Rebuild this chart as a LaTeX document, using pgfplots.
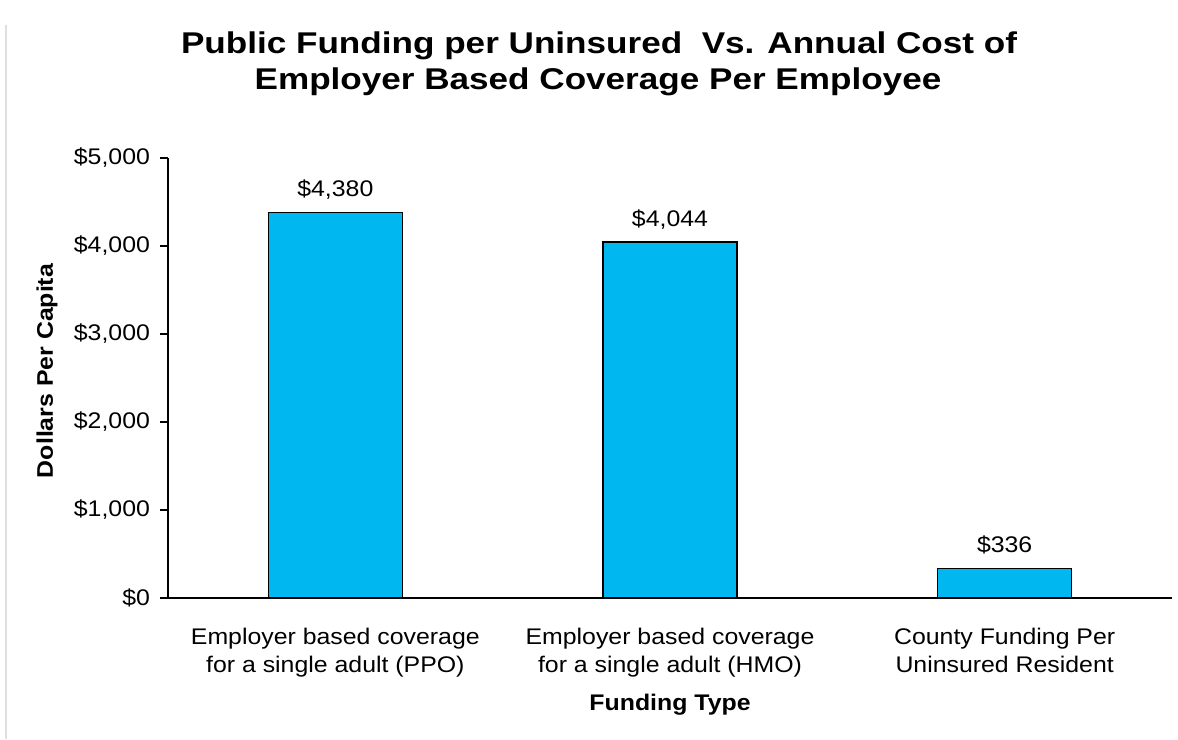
\documentclass[border=0pt]{standalone}
\usepackage{pgfplots}
\pgfplotsset{compat=1.18}
\usepackage{fontspec}
\setmainfont{Liberation Sans}[FakeStretch=1.1]
\newfontfamily\titlefont{Liberation Sans}[FakeStretch=1.17]
\definecolor{barcyan}{RGB}{0,183,240}
\begin{document}
\begin{tikzpicture}[x=0.5pt,y=0.5pt]
\useasboundingbox (0,0) rectangle (1178,739);
\draw[gray!25, line width=1pt] (6,0) -- (6,714);
\node[anchor=base, font={\titlefont\fontsize{15}{18}\selectfont\bfseries}] at (599,685) {Public Funding per Uninsured\ \ Vs. Annual Cost of};
\node[anchor=base, font={\titlefont\fontsize{15}{18}\selectfont\bfseries}] at (598,649) {Employer Based Coverage Per Employee};
\begin{axis}[
  at={(84pt,70.5pt)}, anchor=south west,
  scale only axis, width=502pt, height=220pt,
  xmin=-0.5, xmax=2.5, ymin=0, ymax=5000,
  axis lines*=left, axis line style={line width=0.9pt, -},
  ybar, bar width=67pt,
  xtick={0,1,2},
  xticklabels={{Employer based coverage\\for a single adult (PPO)},{Employer based coverage\\for a single adult (HMO)},{County Funding Per\\Uninsured Resident}},
  xtick style={draw=none},
  xticklabel style={align=center, anchor=north, inner sep=0pt, yshift=-11pt, font={\fontsize{11.3}{14}\selectfont}},
  ytick={0,1000,2000,3000,4000,5000},
  yticklabels={{\$0},{\$1,000},{\$2,000},{\$3,000},{\$4,000},{\$5,000}},
  ytick style={line width=0.9pt, black},
  tick align=outside, major tick length=4pt,
  yticklabel style={font={\fontsize{11.3}{14}\selectfont}, xshift=-1.5pt},
  xlabel={Funding Type},
  ylabel={Dollars Per Capita},
  xlabel style={at={(axis description cs:0.5,-0.243)}, anchor=center, font={\fontsize{11.3}{14}\selectfont\bfseries}},
  ylabel style={at={(axis description cs:-0.1205,0.516)}, anchor=center, rotate=0, font={\fontsize{11.3}{14}\selectfont\bfseries}},
  nodes near coords, point meta=explicit symbolic,
  every node near coord/.append style={font={\fontsize{11.3}{14}\selectfont}, anchor=base, inner sep=0pt, yshift=8pt, black},
  clip=false,
]
\addplot[fill=barcyan, draw=black, line width=0.8pt] coordinates {
  (0,4380) [\$4,380]
  (1,4044) [\$4,044]
  (2,336) [\$336]
};
\end{axis}
\end{tikzpicture}
\end{document}
